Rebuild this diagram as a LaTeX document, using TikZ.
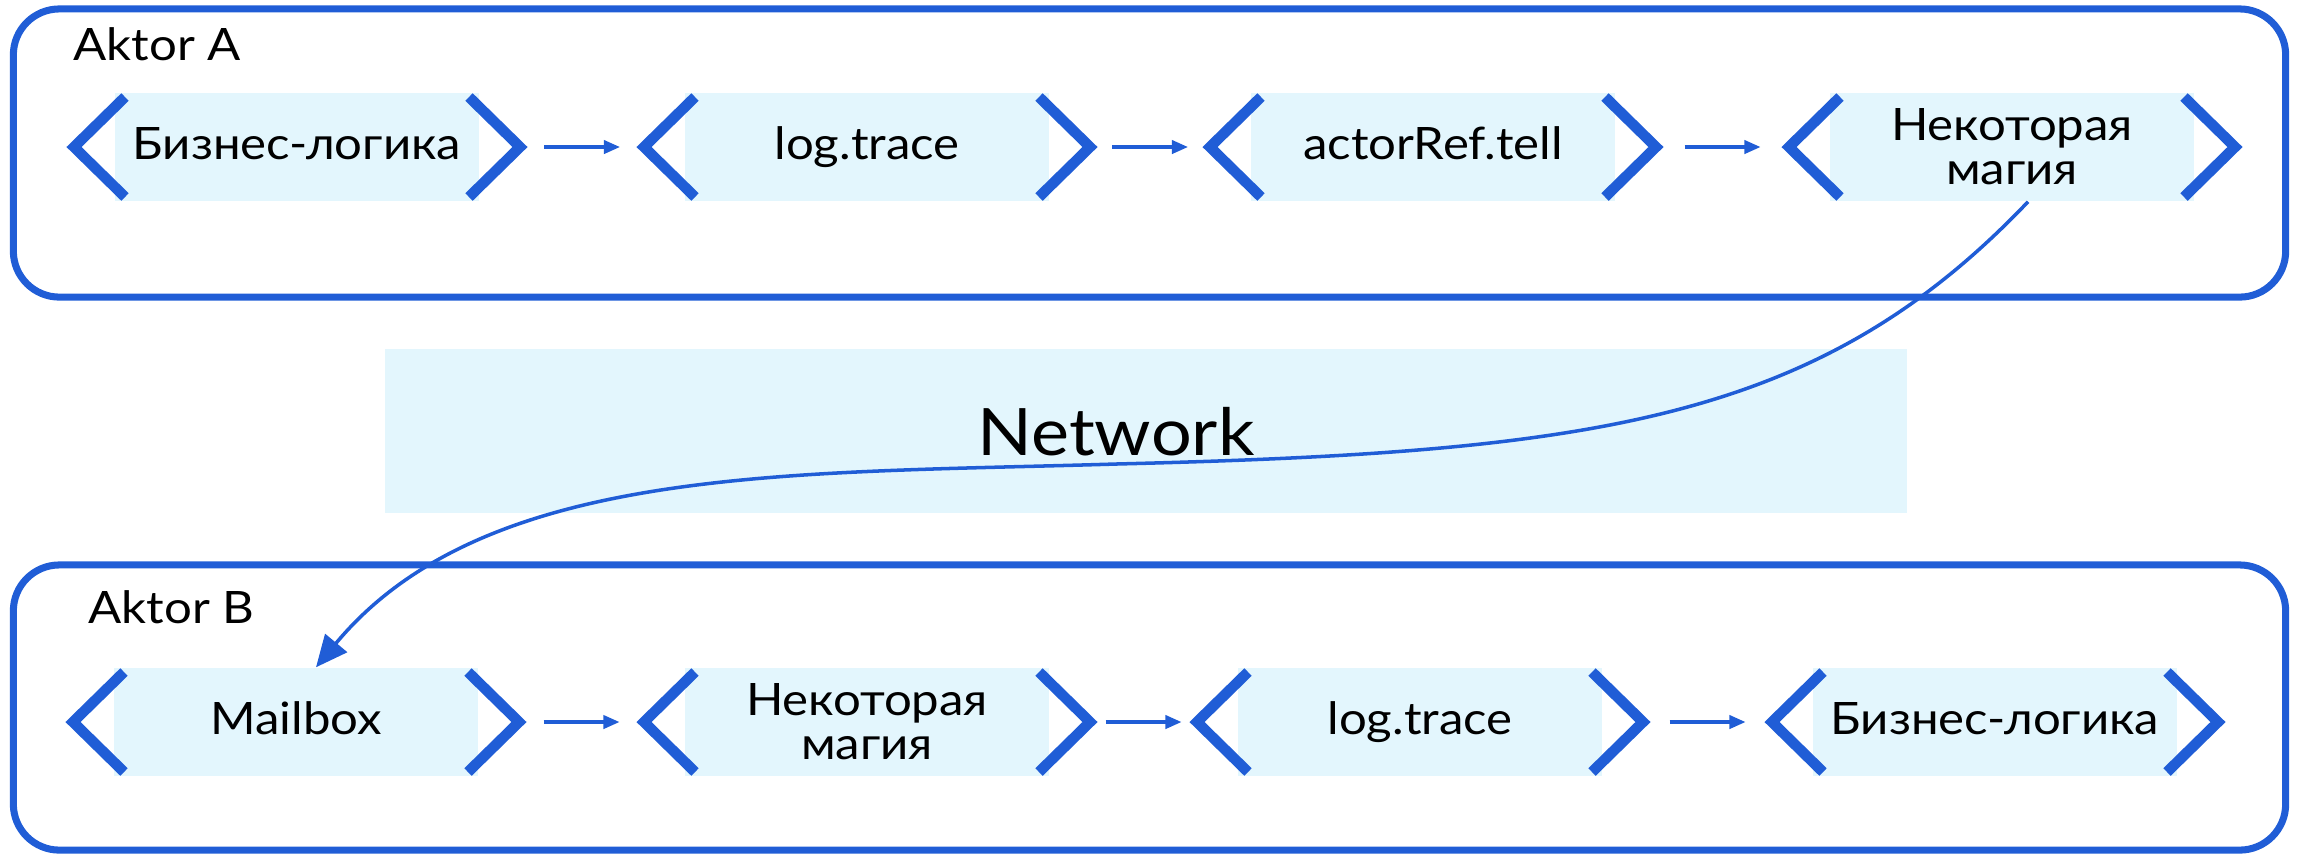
\documentclass[tikz,border=0pt]{standalone}
\usepackage{fontspec}
\setmainfont{Lato}[FakeStretch=1.1]
\usetikzlibrary{arrows.meta,calc}

\definecolor{akblue}{RGB}{32,93,214}
\definecolor{akfill}{RGB}{227,246,253}

\tikzset{
  actorbox/.style={draw=akblue, line width=2pt, rounded corners=0.46cm,
    inner sep=0pt},
  stage/.style={fill=akfill, minimum width=3.64cm, minimum height=1.08cm,
    inner sep=0pt, align=center, font=\fontsize{12.7}{12.5}\selectfont},
  oneline/.style={text height=8.8pt, text depth=1.9pt},
  chev/.style={draw=akblue, line width=3pt, line join=miter, line cap=butt},
  flow/.style={draw=akblue, line width=0.9pt,
    -{Triangle[length=4.6pt,width=3.8pt]}},
  msg/.style={draw=akblue, line width=1pt,
    -{Triangle[length=9pt,width=8pt]}},
  netbox/.style={fill=akfill, minimum width=15.22cm, minimum height=1.64cm,
    inner sep=0pt},
  nettext/.style={font=\fontsize{18.6}{20}\selectfont, inner sep=0pt},
  actortitle/.style={font=\fontsize{12.7}{14}\selectfont, inner sep=0pt,
    anchor=base west},
}

% the two blue brackets around a stage
\newcommand\chevrons[1]{%
  \draw[chev] ($(#1.center)+(-172,-50)$) -- ($(#1.center)+(-223,0)$)
    -- ($(#1.center)+(-172,50)$);
  \draw[chev] ($(#1.center)+(172,-50)$) -- ($(#1.center)+(223,0)$)
    -- ($(#1.center)+(172,50)$);}

% short arrow centred in the gap between two stages
\newcommand\flowarrow[2]{%
  \draw[flow] ($(#1.east)!0.5!(#2.west)+(-38,0)$)
    -- ($(#1.east)!0.5!(#2.west)+(38,0)$);}

\begin{document}
\begin{tikzpicture}[x=0.01cm, y=-0.01cm]
\useasboundingbox (0,0) rectangle (2303,853);

% actor frames
\node[actorbox, minimum width=22.71cm, minimum height=2.88cm] (actA) at (1149.5,153) {};
\node[actorbox, minimum width=22.71cm, minimum height=2.85cm] (actB) at (1149.5,707.5) {};
\node[actortitle] (titleA) at (73,60) {Aktor A};
\node[actortitle] (titleB) at (88,623) {Aktor B};

% network band
\node[netbox] (net) at (1146,431) {};
\node[nettext] (nettxt) at (1116,432) {Network};

% sender pipeline
\node[stage, oneline] (a1) at (297,147) {Бизнес-логика};
\node[stage, oneline] (a2) at (867,147) {log.trace};
\node[stage, oneline] (a3) at (1433,147) {actorRef.tell};
\node[stage] (a4) at (2012,147) {Некоторая\\магия};

% receiver pipeline
\node[stage, oneline] (b1) at (296,722) {Mailbox};
\node[stage] (b2) at (867,722) {Некоторая\\магия};
\node[stage, oneline] (b3) at (1420,722) {log.trace};
\node[stage, oneline] (b4) at (1995,722) {Бизнес-логика};

\foreach \s in {a1,a2,a3,a4,b1,b2,b3,b4} {\chevrons{\s}}

\flowarrow{a1}{a2}
\flowarrow{a2}{a3}
\flowarrow{a3}{a4}
\flowarrow{b1}{b2}
\flowarrow{b2}{b3}
\flowarrow{b3}{b4}

% message crossing the network
\coordinate (via) at (1116,464);
\draw[msg] ([xshift=0.16cm]a4.south) .. controls (1820,420) and (1600,452) .. (via)
  .. controls (790,474) and (485,464) .. ([xshift=0.2cm]b1.north);
\end{tikzpicture}
\end{document}
